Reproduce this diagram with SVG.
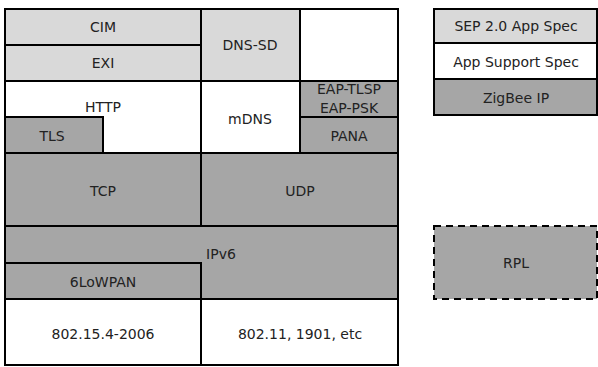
<svg xmlns="http://www.w3.org/2000/svg" width="598" height="367" viewBox="0 0 598 367">
<style>
.b{stroke:#000;stroke-width:2}
.l{fill:#d9d9d9}
.d{fill:#a6a6a6}
.w{fill:#fff}
.dash{stroke-dasharray:7,5}
text{font-family:"DejaVu Sans","Noto Sans",sans-serif;font-size:14px;fill:#222;text-anchor:middle;dominant-baseline:central}
</style>
<rect x="0" y="0" width="598" height="367" fill="#fff"/>
<g id="cim"><rect class="b l" x="5" y="9" width="196" height="36"/><text x="103" y="27">CIM</text></g>
<g id="exi"><rect class="b l" x="5" y="45" width="196" height="36"/><text x="103" y="63">EXI</text></g>
<g id="dnssd"><rect class="b l" x="201" y="9" width="99" height="72"/><text x="250" y="45">DNS-SD</text></g>
<g id="blank"><rect class="b w" x="300" y="9" width="98" height="72"/></g>
<g id="http"><rect class="b w" x="5" y="81" width="196" height="72"/><text x="103" y="107">HTTP</text></g>
<g id="tls"><rect class="b d" x="5" y="117" width="98" height="36"/><text x="52" y="136">TLS</text></g>
<g id="mdns"><rect class="b w" x="201" y="81" width="99" height="72"/><text x="250" y="119">mDNS</text></g>
<g id="eap"><rect class="b d" x="300" y="81" width="98" height="36"/><text x="349" y="89">EAP-TLSP</text><text x="349" y="108">EAP-PSK</text></g>
<g id="pana"><rect class="b d" x="300" y="117" width="98" height="36"/><text x="349" y="136">PANA</text></g>
<g id="tcp"><rect class="b d" x="5" y="153" width="196" height="73"/><text x="103" y="191">TCP</text></g>
<g id="udp"><rect class="b d" x="201" y="153" width="197" height="73"/><text x="300" y="191">UDP</text></g>
<g id="ipv6"><rect class="b d" x="5" y="226" width="393" height="73"/><text x="221" y="254">IPv6</text></g>
<g id="lowpan"><rect class="b d" x="5" y="263" width="196" height="36"/><text x="103" y="282">6LoWPAN</text></g>
<g id="ieee802154"><rect class="b w" x="5" y="299" width="196" height="66"/><text x="103" y="334">802.15.4-2006</text></g>
<g id="ieee80211"><rect class="b w" x="201" y="299" width="197" height="66"/><text x="300" y="334">802.11, 1901, etc</text></g>
<g id="sep"><rect class="b l" x="434" y="9" width="163" height="34"/><text x="516" y="26">SEP 2.0 App Spec</text></g>
<g id="appsupport"><rect class="b w" x="434" y="43" width="163" height="36"/><text x="516" y="62">App Support Spec</text></g>
<g id="zigbeeip"><rect class="b d" x="434" y="79" width="163" height="36"/><text x="516" y="98">ZigBee IP</text></g>
<g id="rpl"><rect class="b d dash" x="434" y="226" width="163" height="73"/><text x="516" y="263">RPL</text></g>
<g id="connectors"></g>
</svg>
